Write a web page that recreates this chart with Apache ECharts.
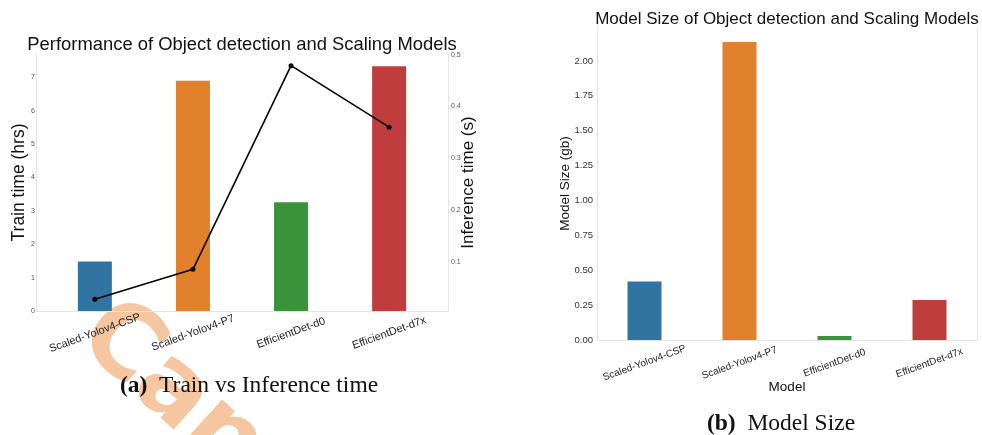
<!DOCTYPE html>
<html>
<head>
<meta charset="utf-8">
<script src="https://cdn.jsdelivr.net/npm/echarts@6/dist/echarts.min.js"></script>
<style>
  html, body { margin: 0; padding: 0; background: #fff; }
  #chart-container { width: 982px; height: 435px; }
</style>
</head>
<body>
<div id="chart-container"></div>
<script>
var models = ['Scaled-Yolov4-CSP', 'Scaled-Yolov4-P7', 'EfficientDet-d0', 'EfficientDet-d7x'];
var barColors = ['#3274a1', '#e1812c', '#3a923a', '#c03d3e'];
var trainHours = [1.48, 6.9, 3.26, 7.33];
var inferenceSec = [0.027, 0.085, 0.479, 0.36];
var modelSizeGb = [0.42, 2.136, 0.029, 0.286];
var trainTicks = [0, 1, 2, 3, 4, 5, 6, 7];
var inferTicks = [0.1, 0.2, 0.3, 0.4, 0.5];
var sizeTicks = [0, 0.25, 0.5, 0.75, 1.0, 1.25, 1.5, 1.75, 2.0];

var dom = document.getElementById('chart-container');
var myChart = echarts.init(dom, null, { renderer: 'canvas' });

var font = 'Liberation Sans';
var frameLine = { show: true, onZero: false, lineStyle: { color: '#e6e6e6', width: 1 } };

var option = {
    animation: false,
    backgroundColor: '#fff',
    title: [
        {
            text: 'Performance of Object detection and Scaling Models',
            left: 237, top: 31, textAlign: 'center',
            textStyle: { fontFamily: font, fontSize: 18.4, fontWeight: 'normal', color: '#111' }
        },
        {
            text: 'Model Size of Object detection and Scaling Models',
            left: 782, top: 6, textAlign: 'center',
            textStyle: { fontFamily: font, fontSize: 17, fontWeight: 'normal', color: '#111' }
        },
        {
            text: '{b|(a)}  Train vs Inference time',
            left: 244, top: 369, textAlign: 'center',
            textStyle: {
                fontFamily: 'Liberation Serif', fontSize: 23.5, fontWeight: 'normal', color: '#111',
                rich: { b: { fontFamily: 'Liberation Serif', fontSize: 23.5, fontWeight: 'bold', color: '#111' } }
            }
        },
        {
            text: '{b|(b)}  Model Size',
            left: 776, top: 407, textAlign: 'center',
            textStyle: {
                fontFamily: 'Liberation Serif', fontSize: 23.5, fontWeight: 'normal', color: '#111',
                rich: { b: { fontFamily: 'Liberation Serif', fontSize: 23.5, fontWeight: 'bold', color: '#111' } }
            }
        }
    ],
    grid: [
        { left: 36, top: 54, width: 412, height: 257 },
        { left: 597, top: 27, width: 380, height: 313 }
    ],
    xAxis: [
        {
            gridIndex: 0, type: 'value', min: -0.6, max: 3.6,
            axisLine: frameLine, axisTick: { show: false }, splitLine: { show: false },
            axisLabel: {
                customValues: [0, 1, 2, 3],
                formatter: function (v) { return models[Math.round(v)]; },
                rotate: 20, align: 'center', verticalAlign: 'middle', margin: 22,
                fontFamily: font, fontSize: 11, color: '#222'
            }
        },
        {
            gridIndex: 1, type: 'category', data: models,
            axisLine: frameLine, axisTick: { show: false },
            axisLabel: {
                rotate: 20, align: 'center', verticalAlign: 'middle', margin: 23,
                fontFamily: font, fontSize: 10, color: '#222'
            },
            name: 'Model', nameLocation: 'middle', nameGap: 40, nameMoveOverlap: false,
            nameTextStyle: { fontFamily: font, fontSize: 13.5, color: '#111' }
        }
    ],
    yAxis: [
        {
            gridIndex: 0, type: 'value', min: 0, max: 7.7,
            axisLine: frameLine, axisTick: { show: false }, splitLine: { show: false },
            axisLabel: { customValues: trainTicks, margin: 1, fontFamily: font, fontSize: 7, color: '#555' },
            name: 'Train time (hrs)', nameLocation: 'middle', nameGap: 8, nameMoveOverlap: false,
            nameTextStyle: { fontFamily: font, fontSize: 17.5, color: '#111' }
        },
        {
            gridIndex: 0, type: 'value', position: 'right', min: 0.0044, max: 0.5016,
            axisLine: frameLine, axisTick: { show: false }, splitLine: { show: false },
            axisLabel: { customValues: inferTicks, margin: 3, fontFamily: font, fontSize: 7, color: '#555' },
            name: 'Inference time (s)', nameLocation: 'middle', nameGap: 12, nameMoveOverlap: false,
            nameTextStyle: { fontFamily: font, fontSize: 17, color: '#111' }
        },
        {
            gridIndex: 1, type: 'value', min: 0, max: 2.243,
            axisLine: frameLine, axisTick: { show: false }, splitLine: { show: false },
            axisLabel: {
                customValues: sizeTicks, margin: 4,
                formatter: function (v) { return v.toFixed(2); },
                fontFamily: font, fontSize: 9.5, color: '#333'
            },
            name: 'Model Size (gb)', nameLocation: 'middle', nameGap: 25, nameMoveOverlap: false,
            nameTextStyle: { fontFamily: font, fontSize: 13.5, color: '#111' }
        },
        {
            gridIndex: 1, type: 'value', position: 'right', min: 0, max: 1,
            axisLine: frameLine, axisTick: { show: false }, splitLine: { show: false },
            axisLabel: { show: false }
        }
    ],
    series: [
        {
            type: 'bar', xAxisIndex: 0, yAxisIndex: 0, barWidth: 34,
            data: trainHours.map(function (v, i) {
                return { value: [i, v], itemStyle: { color: barColors[i] } };
            })
        },
        {
            type: 'line', xAxisIndex: 0, yAxisIndex: 1,
            data: inferenceSec.map(function (v, i) { return [i, v]; }),
            symbol: 'circle', symbolSize: 5,
            lineStyle: { color: '#000', width: 1.6 },
            itemStyle: { color: '#000' }, z: 5
        },
        {
            type: 'bar', xAxisIndex: 1, yAxisIndex: 2, barWidth: 34,
            data: modelSizeGb.map(function (v, i) {
                return { value: v, itemStyle: { color: barColors[i] } };
            })
        }
    ],
    graphic: [
        {
            type: 'text', x: 92, y: 321, rotation: -42 * Math.PI / 180, z: 0,
            style: {
                text: 'Can', fill: 'rgb(245, 198, 160)',
                font: 'bold 100px "DejaVu Sans"',
                textAlign: 'left', textVerticalAlign: 'middle'
            }
        }
    ]
};

myChart.setOption(option);
window.addEventListener('resize', myChart.resize);
</script>
</body>
</html>
